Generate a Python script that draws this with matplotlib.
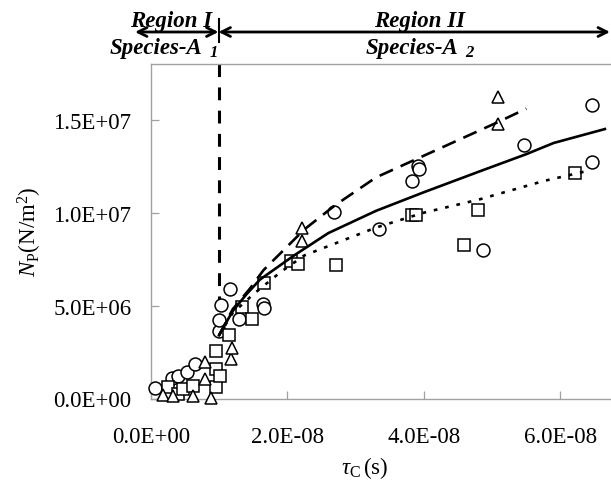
import matplotlib
matplotlib.use("Agg")
import matplotlib.pyplot as plt
from matplotlib.ticker import FuncFormatter, FixedLocator

plt.rcParams['font.family'] = ['Liberation Serif', 'DejaVu Serif']
plt.rcParams['mathtext.fontset'] = 'custom'
plt.rcParams['mathtext.rm'] = 'Liberation Serif'
plt.rcParams['mathtext.it'] = 'Liberation Serif:italic'
plt.rcParams['mathtext.bf'] = 'Liberation Serif:bold'

XS = 1e-8
YS = 1e6

# Data (tau_C in units of 1E-8 s, N_P in units of 1E6 N/m^2)
circle_x = [0.07, 0.31, 0.40, 0.53, 0.65, 1.00, 1.00, 1.03, 1.16, 1.30, 1.65, 1.66,
            2.68, 3.34, 3.82, 3.92, 3.93, 4.86, 5.47, 6.46, 6.46]
circle_y = [0.55, 1.10, 1.22, 1.40, 1.87, 3.62, 4.25, 5.05, 5.87, 4.30, 5.10, 4.87,
            10.05, 9.10, 11.70, 12.50, 12.35, 8.00, 13.65, 15.80, 12.70]

square_x = [0.25, 0.40, 0.48, 0.62, 0.95, 0.96, 0.95, 1.02, 1.14, 1.34, 1.49, 1.66,
            2.06, 2.16, 2.71, 3.82, 3.88, 4.59, 4.79, 6.21]
square_y = [0.60, 0.25, 0.50, 0.65, 0.60, 1.60, 2.55, 1.20, 3.40, 4.90, 4.30, 6.20,
            7.40, 7.25, 7.20, 9.85, 9.85, 8.25, 10.15, 12.15]

tri_x = [0.18, 0.33, 0.62, 0.79, 0.80, 0.88, 1.18, 1.19, 2.22, 2.22, 5.08, 5.08]
tri_y = [0.19, 0.15, 0.15, 1.05, 1.95, 0.02, 2.15, 2.70, 8.50, 9.15, 14.75, 16.25]

solid_x = [1.0, 1.2, 1.4, 1.6, 2.1, 2.6, 3.3, 4.0, 4.8, 5.5, 5.9, 6.65]
solid_y = [3.4, 4.7, 5.6, 6.4, 7.7, 8.9, 10.1, 11.1, 12.2, 13.15, 13.75, 14.5]

dash_x = [1.0, 1.2, 1.45, 1.65, 2.25, 2.7, 3.3, 3.9, 4.5, 5.1, 5.5]
dash_y = [3.4, 4.8, 5.9, 6.9, 9.1, 10.4, 11.9, 12.9, 13.9, 14.9, 15.6]

dot_x = [1.0, 1.2, 1.5, 1.9, 2.25, 3.3, 4.0, 4.8, 5.75, 6.4]
dot_y = [3.4, 4.6, 5.6, 6.8, 7.7, 9.2, 10.0, 10.7, 11.7, 12.25]

boundary_x = 1.0  # 1E-8 s, Region I / Region II
x_ticks = [0, 2e-8, 4e-8, 6e-8]
y_ticks = [0, 5e6, 1e7, 1.5e7]

W, H = 611, 485
fig = plt.figure(figsize=(W / 100, H / 100), dpi=100)
ax = fig.add_axes([150.7 / W, (H - 399.5) / H, (W - 150.7) / W, (399.5 - 65) / H])

sx = lambda v: [a * XS for a in v]
sy = lambda v: [a * YS for a in v]

ax.plot([boundary_x * XS, boundary_x * XS], [3.6e6, 1.8e7], color='black', lw=2.2,
        linestyle=(0, (4.2, 3.4)), zorder=2, clip_on=False)

mk = dict(linestyle='none', markerfacecolor='white', markeredgecolor='black',
          markeredgewidth=1.1, zorder=3, clip_on=False)
ax.plot(sx(circle_x), sy(circle_y), marker='o', markersize=9.3, **mk)
ax.plot(sx(square_x), sy(square_y), marker='s', markersize=9, **mk)
ax.plot(sx(tri_x), sy(tri_y), marker='^', markersize=9.3, **mk)

ax.plot(sx(solid_x), sy(solid_y), color='black', lw=1.9, zorder=4)
ax.plot(sx(dash_x), sy(dash_y), color='black', lw=1.9, linestyle=(0, (5.5, 3.2)), zorder=4)
ax.plot(sx(dot_x), sy(dot_y), color='black', lw=1.9, linestyle=(0, (1.4, 3.0)), zorder=4)

ax.set_xlim(0, (W - 150.7) / 68.3 * XS)
ax.set_ylim(0, 1.8e7)
ax.xaxis.set_major_locator(FixedLocator(x_ticks))
ax.yaxis.set_major_locator(FixedLocator(y_ticks))
fmt = FuncFormatter(lambda v, p: "%.1E" % v)
ax.xaxis.set_major_formatter(fmt)
ax.yaxis.set_major_formatter(fmt)
ax.tick_params(axis='both', direction='in', length=6, width=0.9, color='#a0a0a0',
               labelsize=16.5, labelcolor='black')
ax.tick_params(axis='x', pad=20)
ax.tick_params(axis='y', pad=14)
for s in ['left', 'bottom', 'top']:
    ax.spines[s].set_color('#a0a0a0')
    ax.spines[s].set_linewidth(1.0)
ax.spines['right'].set_visible(False)

# axis labels
fig.text(365 / W, (H - 468) / H, r'$\tau_{\rm C}\,$(s)', ha='center', va='center', fontsize=16.5)
fig.text(30 / W, (H - 232) / H, r'$N_{\rm P}$(N/m$^2$)', ha='center', va='center',
         rotation=90, fontsize=16.5)

# region annotations (figure pixel coords)
def fp(x, y):
    return (x / W, (H - y) / H)

arrow_y = 33
ap = dict(arrowstyle='<->', color='black', lw=2.0, mutation_scale=16, shrinkA=0, shrinkB=0)
fig.add_artist(matplotlib.patches.FancyArrowPatch(fp(135, arrow_y), fp(218.5, arrow_y),
                                                  transform=fig.transFigure, **ap))
fig.add_artist(matplotlib.patches.FancyArrowPatch(fp(218.5, arrow_y), fp(610, arrow_y),
                                                  transform=fig.transFigure, **ap))
fig.add_artist(matplotlib.lines.Line2D([218.5 / W, 218.5 / W], [(H - 20) / H, (H - 43) / H],
                                       transform=fig.transFigure, color='black', lw=1.5))

tkw = dict(fontsize=16.5, fontweight='bold', fontstyle='italic', va='baseline')
fig.text(*fp(171, 27), 'Region I', ha='center', **tkw)
fig.text(*fp(420, 27), 'Region II', ha='center', **tkw)
fig.text(*fp(110, 54), 'Species-A', ha='left', **tkw)
fig.text(*fp(210, 57), '1', ha='left', fontsize=12, fontweight='bold', fontstyle='italic', va='baseline')
fig.text(*fp(366, 54), 'Species-A', ha='left', **tkw)
fig.text(*fp(465, 57), '2', ha='left', fontsize=12, fontweight='bold', fontstyle='italic', va='baseline')

fig.savefig('out.png', dpi=100)
